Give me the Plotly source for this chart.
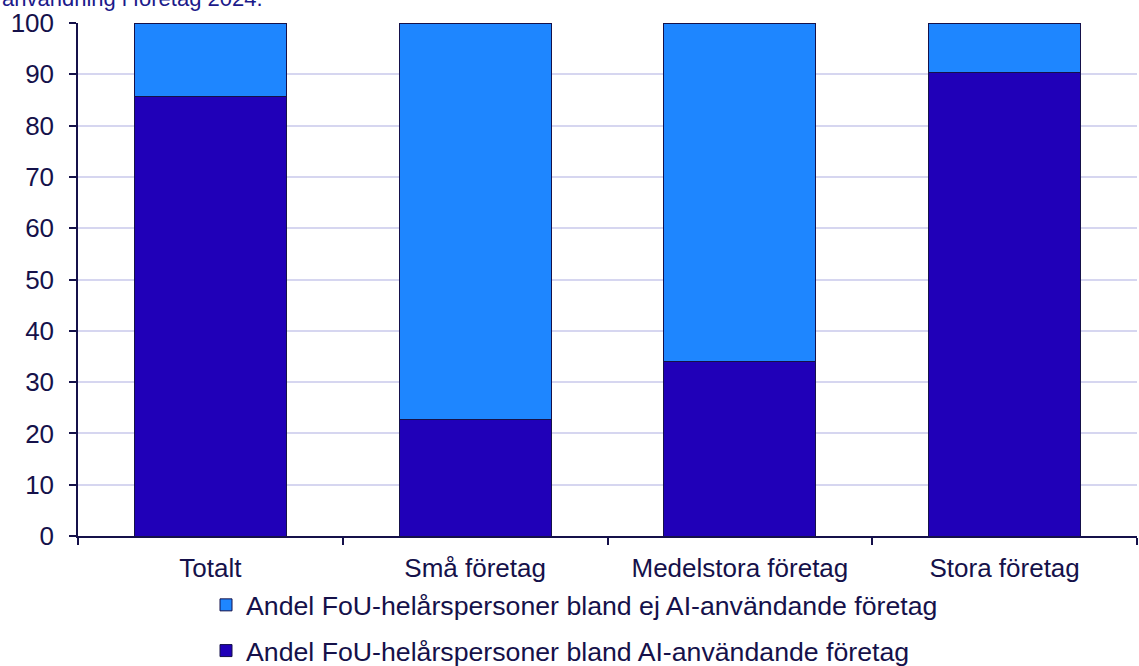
import plotly.graph_objects as go

# Andel FoU-helårspersoner (%) per företagsstorlek
categories = ["Totalt", "Små företag", "Medelstora företag", "Stora företag"]
ai_share = [85.7, 22.8, 34.0, 90.3]
non_ai_share = [round(100 - v, 1) for v in ai_share]
y_ticks = [0, 10, 20, 30, 40, 50, 60, 70, 80, 90, 100]

name_ai = "Andel FoU-helårspersoner bland AI-användande företag"
name_non_ai = "Andel FoU-helårspersoner bland ej AI-användande företag"

ink = "#15114a"
font_family = "Liberation Sans, Arial, sans-serif"

W, H = 1139, 666
ml, mr, mt, mb = 78, 2, 23, 130
pw, ph = W - ml - mr, H - mt - mb

fig = go.Figure()
fig.add_trace(go.Bar(
    x=categories, y=ai_share, name=name_ai, legendgroup="a", legendrank=2,
    marker=dict(color="#2000B8", line=dict(color=ink, width=1)),
))
fig.add_trace(go.Bar(
    x=categories, y=non_ai_share, name=name_non_ai, legendgroup="b", legendrank=1,
    marker=dict(color="#1E86FF", line=dict(color=ink, width=1)),
))

fig.update_layout(
    width=W, height=H,
    barmode="stack", bargap=0.426,
    plot_bgcolor="white", paper_bgcolor="white",
    margin=dict(l=ml, r=mr, t=mt, b=mb, autoexpand=False),
    font=dict(family=font_family, size=26, color=ink),
    showlegend=True,
    legend=dict(
        orientation="v", traceorder="grouped", tracegroupgap=8,
        x=(206 - ml) / pw, xanchor="left",
        y=-(581 - (H - mb)) / ph, yanchor="top",
        font=dict(size=26.7, color=ink),
        bgcolor="rgba(0,0,0,0)",
        itemwidth=30,
    ),
    xaxis=dict(
        showline=True, linecolor=ink, linewidth=1.5,
        ticks="outside", tickson="boundaries", ticklen=7, tickcolor=ink, tickwidth=1.5,
        tickfont=dict(size=26, color=ink), ticklabelstandoff=8,
        showgrid=False,
    ),
    yaxis=dict(
        range=[0, 100], tickvals=y_ticks,
        showline=True, linecolor=ink, linewidth=1.5,
        ticks="outside", ticklen=7, tickcolor=ink, tickwidth=1.5,
        tickfont=dict(size=26, color=ink), ticklabelstandoff=10,
        showgrid=True, gridcolor="#d6d6f0", gridwidth=1.5,
        zeroline=False,
    ),
    annotations=[dict(
        text="användning i företag 2024.",
        xref="paper", yref="paper",
        x=-ml / pw, xanchor="left",
        y=(H - mb - 13) / ph, yanchor="bottom",
        showarrow=False,
        font=dict(size=22, color="#1c1a8a", family=font_family),
    )],
)

fig.write_html("out.html")
